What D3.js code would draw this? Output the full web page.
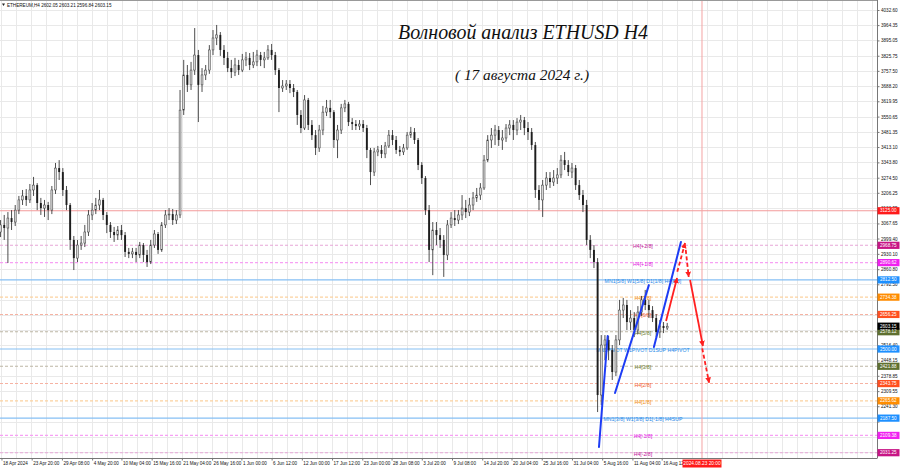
<!DOCTYPE html>
<html><head><meta charset="utf-8">
<script src="https://cdn.jsdelivr.net/npm/d3@7"></script>
<style>
html,body{margin:0;padding:0;background:#fff;}
svg{display:block;}
</style></head><body>
<svg id="c" width="900" height="468"></svg>
<script>
// ---------------- DATA ----------------
const symbolHeader = "ETHEREUM,H4  2602.05 2603.21 2596.84 2603.15";
const titleText = "Волновой анализ ETHUSD H4";
const subtitleText = "( 17 августа 2024 г.)";

// candles (16h aggregation of the H4 series), first candle time and step
const firstCandle = "2024-04-18 04:00";
const candleStepHours = 16;
const open = [3029,3061,3047,3092,3074,3128,3174,3192,3174,3219,
3241,3160,3137,3151,3128,3219,3318,3300,3219,3151,
2993,2911,2970,2979,3029,3106,3128,3151,3174,3106,
3061,3029,3015,3038,3015,2939,2930,2939,2925,2970,
2925,2893,2970,3020,2948,3061,3106,3110,3083,3106,
3580,3739,3694,3761,3829,3694,3739,3761,3852,3906,
3920,3852,3816,3770,3752,3784,3761,3807,3816,3784,
3798,3829,3807,3816,3852,3829,3761,3680,3689,3698,
3680,3662,3558,3499,3626,3513,3467,3409,3490,3571,
3590,3571,3445,3490,3590,3608,3526,3517,3508,3517,
3499,3400,3300,3391,3400,3382,3418,3467,3445,3400,
3391,3409,3467,3481,3445,3332,3273,3128,2948,3038,
3015,2993,2925,3061,3092,3083,3106,3137,3119,3151,
3183,3196,3228,3354,3445,3467,3490,3445,3454,3499,
3513,3490,3526,3535,3499,3481,3422,3219,3174,3241,
3273,3255,3273,3287,3354,3332,3300,3318,3241,3196,
3151,2993,2948,2893,2292,2518,2541,2495,2396,2541,
2676,2699,2622,2640,2586,2667,2722,2699,2676,2640,
2577,2604,2595];
const high = [3083,3106,3119,3128,3151,3192,3219,3223,3246,3278,
3250,3183,3174,3165,3237,3341,3354,3318,3237,3160,
3011,2993,3011,3061,3128,3160,3183,3219,3183,3119,
3074,3052,3056,3061,3029,2957,2957,2957,2984,2979,
2948,2993,3038,3029,3074,3128,3137,3133,3128,3671,
3807,3784,3798,3951,3852,3770,3784,3874,3942,3965,
3933,3874,3843,3807,3816,3807,3834,3843,3838,3843,
3852,3843,3843,3874,3879,3843,3770,3716,3716,3716,
3698,3671,3580,3648,3635,3535,3490,3513,3599,3626,
3626,3580,3513,3608,3626,3617,3544,3535,3535,3535,
3513,3409,3409,3418,3422,3436,3490,3490,3463,3418,
3427,3481,3504,3499,3454,3345,3282,3151,3074,3074,
3047,3015,3083,3119,3128,3128,3196,3174,3183,3210,
3228,3250,3377,3467,3499,3513,3508,3490,3517,3535,
3535,3544,3558,3549,3526,3499,3436,3241,3264,3300,
3300,3309,3318,3377,3391,3354,3341,3332,3264,3219,
3174,3015,2970,2911,2563,2563,2559,2518,2563,2722,
2731,2722,2676,2667,2694,2740,2767,2722,2694,2658,
2631,2622,2618];
const low = [3006,2993,2889,3038,3056,3110,3151,3147,3160,3192,
3128,3106,3097,3083,3110,3201,3264,3192,3128,2948,
2857,2893,2948,2961,3011,3083,3110,3128,3083,3024,
3002,2984,2993,2993,2916,2911,2911,2893,2911,2893,
2871,2884,2957,2930,2939,3047,3083,3061,3065,3092,
3558,3662,3671,3739,3526,3662,3716,3744,3829,3874,
3825,3784,3752,3725,3734,3739,3752,3779,3761,3770,
3779,3779,3770,3807,3807,3739,3571,3662,3671,3657,
3639,3513,3476,3490,3490,3445,3377,3391,3467,3553,
3544,3409,3363,3472,3571,3508,3490,3490,3490,3481,
3363,3241,3282,3372,3363,3363,3409,3422,3382,3372,
3377,3400,3454,3427,3309,3246,3106,2893,2834,2970,
2957,2826,2902,3047,3056,3065,3083,3092,3101,3128,
3165,3174,3219,3345,3409,3422,3418,3400,3436,3467,
3445,3467,3490,3467,3445,3400,3183,3128,3097,3219,
3228,3237,3246,3273,3309,3282,3273,3219,3174,3119,
2970,2911,2866,2215,2246,2450,2450,2360,2378,2518,
2640,2586,2586,2554,2568,2649,2676,2640,2622,2554,
2550,2572,2586];
const close = [3061,3047,3092,3074,3128,3174,3192,3174,3219,3241,
3160,3137,3151,3128,3219,3318,3300,3219,3151,2993,
2911,2970,2979,3029,3106,3128,3151,3174,3106,3061,
3029,3015,3038,3015,2939,2930,2939,2925,2970,2925,
2893,2970,3020,2948,3061,3106,3110,3083,3106,3580,
3739,3694,3761,3829,3694,3739,3761,3852,3906,3920,
3852,3816,3770,3752,3784,3761,3807,3816,3784,3798,
3829,3807,3816,3852,3829,3761,3680,3689,3698,3680,
3662,3558,3499,3626,3513,3467,3409,3490,3571,3590,
3571,3445,3490,3590,3608,3526,3517,3508,3517,3499,
3400,3300,3391,3400,3382,3418,3467,3445,3400,3391,
3409,3467,3481,3445,3332,3273,3128,2948,3038,3015,
2993,2925,3061,3092,3083,3106,3137,3119,3151,3183,
3196,3228,3354,3445,3467,3490,3445,3454,3499,3513,
3490,3526,3535,3499,3481,3422,3219,3174,3241,3273,
3255,3273,3287,3354,3332,3300,3318,3241,3196,3151,
2993,2948,2893,2292,2518,2541,2495,2396,2541,2676,
2699,2622,2640,2586,2667,2722,2699,2676,2640,2577,
2604,2595,2603.15];
const lastPrice = 2603.15;

// price scale ticks
const priceTicks = [4032.60,3964.35,3895.05,3825.75,3757.50,3688.20,3619.95,3550.65,3481.35,3413.10,
3343.80,3274.50,3206.25,3136.95,3067.65,2999.40,2930.10,2860.80,2792.50,2723.20,
2654.90,2585.60,2516.40,2448.15,2378.85,2309.55,2241.30,2172.00,2103.70,2034.40];

// time scale ticks
const timeTicks = ["2024-04-18 08:00","2024-04-23 20:00","2024-04-29 08:00","2024-05-04 20:00","2024-05-10 04:00",
"2024-05-15 16:00","2024-05-21 04:00","2024-05-26 16:00","2024-06-01 00:00","2024-06-06 12:00",
"2024-06-12 00:00","2024-06-17 12:00","2024-06-23 00:00","2024-06-28 08:00","2024-07-03 20:00",
"2024-07-09 08:00","2024-07-14 20:00","2024-07-20 04:00","2024-07-25 16:00","2024-07-31 04:00",
"2024-08-05 16:00","2024-08-11 04:00","2024-08-16 12:00"];
const timeTickLabels = ["18 Apr 2024","23 Apr 20:00","29 Apr 08:00","4 May 20:00","10 May 04:00",
"15 May 16:00","21 May 04:00","26 May 16:00","1 Jun 00:00","6 Jun 12:00",
"12 Jun 00:00","17 Jun 12:00","23 Jun 00:00","28 Jun 08:00","3 Jul 20:00",
"9 Jul 08:00","14 Jul 20:00","20 Jul 04:00","25 Jul 16:00","31 Jul 04:00",
"5 Aug 16:00","11 Aug 04:00","16 Aug 12:00"];

// Murrey levels
const levelPrices = [3125.00,2968.75,2890.62,2812.50,2734.38,2656.25,2578.12,2500.00,2421.88,2343.75,2265.62,2187.50,2109.38,2031.25];
const levelTexts = ["","H4[+2/8]","H4[+1/8]","MN1[5/8] W1[5/8] D1[1/8] H4[8/8]","H4[7/8]","H4[6/8]","H4[5/8]",
"MN1PIVOT W1PIVOT D1SUP H4PIVOT","H4[3/8]","H4[2/8]","H4[1/8]","MN1[3/8] W1[3/8] D1[-1/8] H4SUP","H4[-1/8]","H4[-2/8]"];
const levelKinds = ["red","plus2","plus1","blue","orange","tomato","olive","blue","olive","tomato","orange","blue","plus1","plus2"];
const levelLabelTime = "2024-08-13 02:00";

// wave lines (blue)
const waveStart = ["2024-08-05 02:00","2024-08-08 00:00","2024-08-15 02:00"];
const waveEnd   = ["2024-08-06 16:00","2024-08-14 04:00","2024-08-20 00:00"];
const waveStartPrice = [2057,2301,2509];
const waveEndPrice   = [2559,2789,2984];

// forecast arrows (red)
const arrowStart = ["2024-08-17 07:00","2024-08-19 08:00","2024-08-20 21:00","2024-08-21 16:00","2024-08-23 21:00"];
const arrowEnd   = ["2024-08-19 07:00","2024-08-20 18:00","2024-08-21 10:00","2024-08-24 00:00","2024-08-25 03:00"];
const arrowStartPrice = [2627,2849,2948,2812,2503];
const arrowEndPrice   = [2821,2979,2826,2514,2348];

const forecastTime = "2024-08-23 20:00";
const forecastLabel = "2024.08.23 20:00";

// ---------------- STYLES ----------------
const kindStyle = {
  red:    {line:"#f39a9a", dash:null,  text:"#e00000", box:"#ff1a1a"},
  plus2:  {line:"#e7a6d8", dash:"3,2", text:"#c0209a", box:"#c71585"},
  plus1:  {line:"#f7a0f4", dash:"3,2", text:"#e020e0", box:"#f020f0"},
  blue:   {line:"#86bff4", dash:null,  text:"#2a8ae8", box:"#1e90ff"},
  orange: {line:"#fbd2a0", dash:"3,2", text:"#f08a10", box:"#ff8c00"},
  tomato: {line:"#f6b2a2", dash:"3,2", text:"#f05a2a", box:"#ff4f1f"},
  olive:  {line:"#bdb7a5", dash:"3,2", text:"#6b7a2a", box:"#5f7030"}
};
const arrowDashed = [false,true,true,false,true];

// ---------------- DRAW ----------------
const plotR = 877, plotB = 458;
const parse = d3.utcParse("%Y-%m-%d %H:%M");
const x = d3.scaleUtc().domain([parse("2024-04-23 20:00"), parse("2024-08-16 12:00")]).range([31.7, 661.7]);
const y = d3.scaleLinear().domain([2031.25, 4032.60]).range([452.7, 10]);
const svg = d3.select("#c");
const FONT = "'Liberation Sans', Arial, sans-serif";

svg.append("rect").attr("width",900).attr("height",468).attr("fill","#fff");
const defs = svg.append("defs");
defs.append("clipPath").attr("id","plot").append("rect").attr("x",0).attr("y",0).attr("width",plotR).attr("height",plotB);
defs.append("marker").attr("id","ah").attr("viewBox","0 0 10 10").attr("refX",9).attr("refY",5)
  .attr("markerWidth",3.2).attr("markerHeight",3.2).attr("orient","auto-start-reverse").attr("markerUnits","strokeWidth")
  .append("path").attr("d","M0,0 L10,5 L0,10 z").attr("fill","#ff2020");

const plot = svg.append("g").attr("clip-path","url(#plot)");

// grid
const tickDates = timeTicks.map(parse);
const tickX = tickDates.map(d => x(d));
const stepX = (tickX[tickX.length-1]-tickX[0])/(tickX.length-1)/2;
const gridX = d3.range(tickX[0], plotR, stepX);
plot.append("g").selectAll("line").data(gridX).join("line")
  .attr("x1",d=>Math.round(d)+0.5).attr("x2",d=>Math.round(d)+0.5).attr("y1",0).attr("y2",plotB)
  .attr("stroke","#e9e9e9").attr("stroke-width",1);
plot.append("g").selectAll("line").data(priceTicks).join("line")
  .attr("x1",0).attr("x2",plotR).attr("y1",d=>Math.round(y(d))+0.5).attr("y2",d=>Math.round(y(d))+0.5)
  .attr("stroke","#e9e9e9").attr("stroke-width",1);

// level lines
plot.append("g").selectAll("line").data(levelPrices).join("line")
  .attr("x1",0).attr("x2",plotR).attr("y1",d=>y(d)).attr("y2",d=>y(d))
  .attr("stroke",(d,i)=>kindStyle[levelKinds[i]].line)
  .attr("stroke-dasharray",(d,i)=>kindStyle[levelKinds[i]].dash)
  .attr("stroke-width",1.1);

// forecast vertical line
const fx = x(parse(forecastTime));
plot.append("line").attr("x1",fx).attr("x2",fx).attr("y1",0).attr("y2",plotB)
  .attr("stroke","#f4a3a3").attr("stroke-width",1);

// level texts
const lx = x(parse(levelLabelTime));
plot.append("g").selectAll("text").data(levelPrices).join("text")
  .attr("x",lx).attr("y",d=>y(d)+1.6).attr("text-anchor","middle").attr("dominant-baseline","middle")
  .attr("font-family",FONT).attr("font-size",5.2)
  .attr("fill",(d,i)=>kindStyle[levelKinds[i]].text)
  .text((d,i)=>levelTexts[i]);

// candles
const t0 = parse(firstCandle).getTime();
const candles = close.map((c,i)=>({t:new Date(t0 + i*candleStepHours*3600e3), o:open[i], h:high[i], l:low[i], c:c}));
const bw = 1.9;
const cg = plot.append("g");
cg.selectAll("line").data(candles).join("line")
  .attr("x1",d=>x(d.t)).attr("x2",d=>x(d.t)).attr("y1",d=>y(d.h)).attr("y2",d=>y(d.l))
  .attr("stroke","#3a3a3a").attr("stroke-width",0.9);
cg.selectAll("rect").data(candles).join("rect")
  .attr("x",d=>x(d.t)-bw/2).attr("width",bw)
  .attr("y",d=>y(Math.max(d.o,d.c))).attr("height",d=>Math.max(0.8, Math.abs(y(d.o)-y(d.c))))
  .attr("fill",d=>d.c>=d.o ? "#d8d8d8" : "#1e1e1e")
  .attr("stroke",d=>d.c>=d.o ? "#3a3a3a" : "none").attr("stroke-width",0.5);

// wave lines
plot.append("g").selectAll("line").data(waveStart).join("line")
  .attr("x1",d=>x(parse(d))).attr("y1",(d,i)=>y(waveStartPrice[i]))
  .attr("x2",(d,i)=>x(parse(waveEnd[i]))).attr("y2",(d,i)=>y(waveEndPrice[i]))
  .attr("stroke","#1d3cf5").attr("stroke-width",2).attr("stroke-linecap","round");

// arrows
plot.append("g").selectAll("line").data(arrowStart).join("line")
  .attr("x1",d=>x(parse(d))).attr("y1",(d,i)=>y(arrowStartPrice[i]))
  .attr("x2",(d,i)=>x(parse(arrowEnd[i]))).attr("y2",(d,i)=>y(arrowEndPrice[i]))
  .attr("stroke","#ff2020").attr("stroke-width",1.8)
  .attr("stroke-dasharray",(d,i)=>arrowDashed[i]?"4,2.5":null)
  .attr("marker-end","url(#ah)");

// titles
svg.append("text").attr("x",398).attr("y",39).attr("font-family","'Liberation Serif', serif")
  .attr("font-style","italic").attr("font-size",21).attr("fill","#111")
  .attr("textLength",250).attr("lengthAdjust","spacingAndGlyphs").text(titleText);
svg.append("text").attr("x",455).attr("y",80).attr("font-family","'Liberation Serif', serif")
  .attr("font-style","italic").attr("font-size",14).attr("fill","#111")
  .attr("textLength",134).attr("lengthAdjust","spacingAndGlyphs").text(subtitleText);

// header
svg.append("path").attr("d","M2,3.5 L5,3.5 L3.5,6 z").attr("fill","#222");
svg.append("text").attr("x",7).attr("y",6.6).attr("font-family",FONT).attr("font-size",4.6).attr("fill","#111")
  .text(symbolHeader);

// frame
svg.append("line").attr("x1",plotR+0.5).attr("x2",plotR+0.5).attr("y1",0).attr("y2",plotB).attr("stroke","#777");
svg.append("line").attr("x1",0).attr("x2",plotR+0.5).attr("y1",plotB+0.5).attr("y2",plotB+0.5).attr("stroke","#777");
svg.append("line").attr("x1",0).attr("x2",plotR).attr("y1",0.5).attr("y2",0.5).attr("stroke","#999");

// level boxes on price scale (data)
const boxData = levelPrices.map((p,i)=>({p, col:kindStyle[levelKinds[i]].box})).concat([{p:lastPrice, col:"#000"}]);

// price axis — scale labels hidden where a level box sits on them (as on the terminal)
const covered = v => boxData.some(b => { const dy = y(v) - y(b.p); return dy > -2 && dy < 3.45; });
const ay = svg.append("g").attr("transform",`translate(${plotR+0.5},0)`)
  .call(d3.axisRight(y).tickValues(priceTicks).tickSize(2).tickPadding(1.5)
    .tickFormat(v => covered(v) ? "" : d3.format(".2f")(v)));
ay.select(".domain").remove();
ay.selectAll("line").attr("stroke","#777");
ay.selectAll("text").attr("font-family",FONT).attr("font-size",4.6).attr("fill","#111");

// time axis
const ax = svg.append("g").attr("transform",`translate(0,${plotB+0.5})`)
  .call(d3.axisBottom(x).tickValues(tickDates).tickSize(2).tickPadding(1).tickFormat((d,i)=>timeTickLabels[i]));
ax.select(".domain").remove();
ax.selectAll("line").attr("stroke","#777");
ax.selectAll("text").attr("font-family",FONT).attr("font-size",4.6).attr("fill","#111")
  .attr("text-anchor","start").attr("dx",1);

// level boxes
const boxes = svg.append("g");
boxes.selectAll("rect").data(boxData).join("rect")
  .attr("x",plotR+0.5).attr("y",d=>y(d.p)-3.6).attr("width",22).attr("height",7.2).attr("fill",d=>d.col);
boxes.selectAll("text").data(boxData).join("text")
  .attr("x",plotR+3).attr("y",d=>y(d.p)+1.6).attr("font-family",FONT).attr("font-size",4.6).attr("fill","#fff")
  .text(d=>d3.format(".2f")(d.p));

// forecast time label
const fl = svg.append("g");
fl.append("rect").attr("x",fx-19.5).attr("y",plotB+1.5).attr("width",39).attr("height",8).attr("fill","#ff1a1a");
fl.append("text").attr("x",fx).attr("y",plotB+7.3).attr("text-anchor","middle").attr("font-family",FONT)
  .attr("font-size",4.8).attr("fill","#fff").text(forecastLabel);
</script>
</body></html>
